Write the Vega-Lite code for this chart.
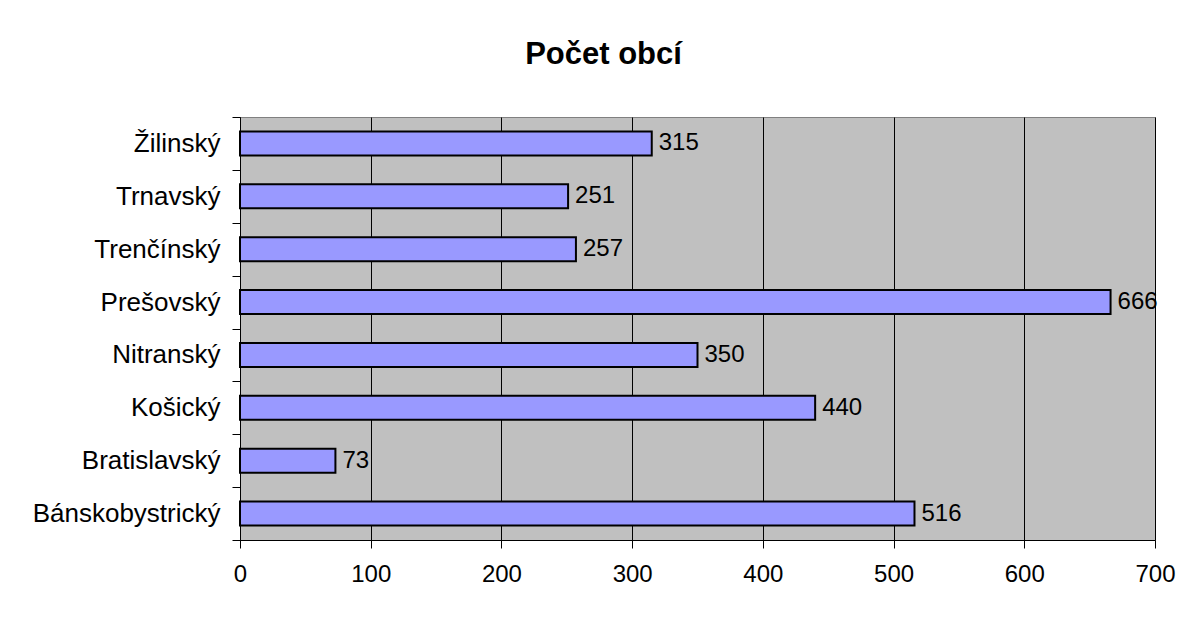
{
  "$schema": "https://vega.github.io/schema/vega-lite/v6.json",
  "width": 915,
  "height": 423,
  "autosize": {"type": "none"},
  "padding": {"left": 240, "top": 117, "right": 44, "bottom": 81},
  "background": "#ffffff",
  "title": {
    "text": "Počet obcí",
    "font": "Liberation Sans",
    "fontSize": 31,
    "fontWeight": "bold",
    "color": "#000000",
    "anchor": "middle",
    "frame": "group",
    "baseline": "alphabetic",
    "dx": -94,
    "offset": 9
  },
  "data": {
    "values": [
      {"kraj": "Žilinský", "obce": 315},
      {"kraj": "Trnavský", "obce": 251},
      {"kraj": "Trenčínský", "obce": 257},
      {"kraj": "Prešovský", "obce": 666},
      {"kraj": "Nitranský", "obce": 350},
      {"kraj": "Košický", "obce": 440},
      {"kraj": "Bratislavský\u00a0", "obce": 73},
      {"kraj": "Bánskobystrický", "obce": 516}
    ]
  },
  "encoding": {
    "y": {
      "field": "kraj",
      "type": "nominal",
      "sort": null,
      "scale": {"paddingInner": 0, "paddingOuter": 0},
      "axis": {
        "title": null,
        "domainColor": "#000000",
        "domainWidth": 1,
        "tickColor": "#000000",
        "tickWidth": 1,
        "tickSize": 8,
        "tickBand": "extent",
        "labelFont": "Liberation Sans",
        "labelFontSize": 26,
        "labelColor": "#000000",
        "labelPadding": 12,
        "labelLimit": 400,
        "grid": false
      }
    },
    "x": {
      "field": "obce",
      "type": "quantitative",
      "scale": {"domain": [0, 700], "nice": false},
      "axis": {
        "title": null,
        "values": [0, 100, 200, 300, 400, 500, 600, 700],
        "grid": true,
        "gridColor": "#000000",
        "gridWidth": 1,
        "domainColor": "#000000",
        "domainWidth": 1,
        "tickColor": "#000000",
        "tickWidth": 1,
        "tickSize": 8,
        "labelFont": "Liberation Sans",
        "labelFontSize": 24,
        "labelColor": "#000000",
        "labelPadding": 14,
        "labelFlush": false
      }
    }
  },
  "layer": [
    {
      "mark": {
        "type": "bar",
        "height": {"band": 0.4545},
        "fill": "#9999ff",
        "stroke": "#000000",
        "strokeWidth": 2,
        "cornerRadius": 0
      }
    },
    {
      "mark": {
        "type": "text",
        "align": "left",
        "baseline": "middle",
        "dx": 7,
        "font": "Liberation Sans",
        "fontSize": 24,
        "color": "#000000"
      },
      "encoding": {"text": {"field": "obce", "type": "quantitative"}}
    }
  ],
  "config": {
    "view": {"fill": "#c0c0c0", "stroke": "#808080", "strokeWidth": 1}
  }
}
